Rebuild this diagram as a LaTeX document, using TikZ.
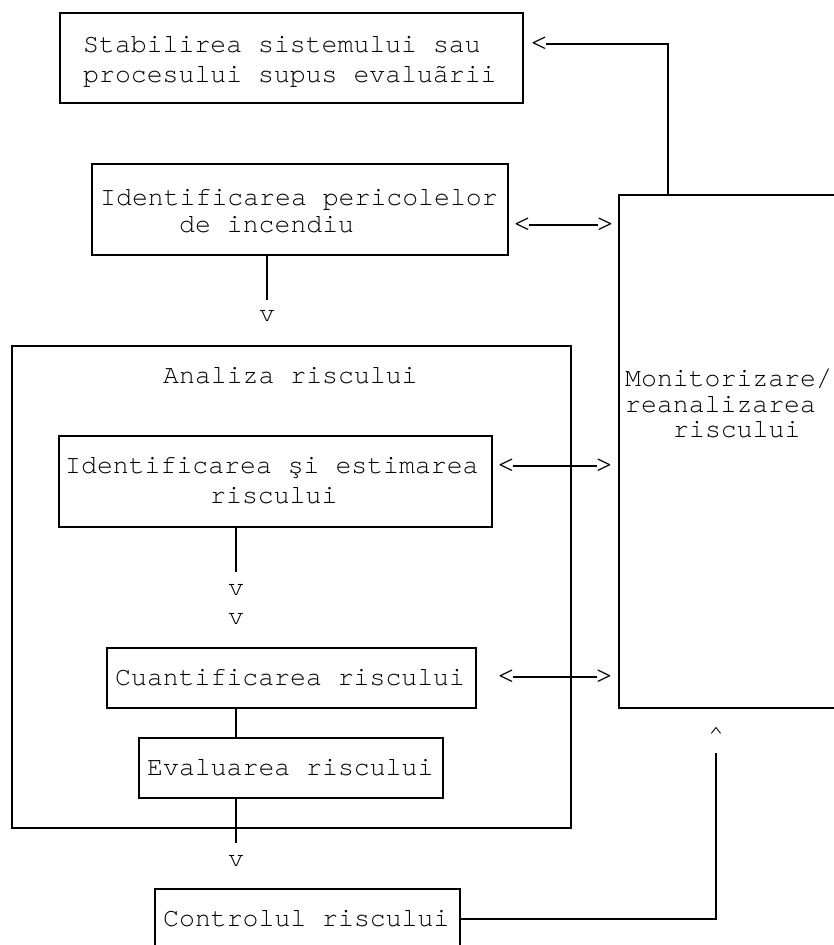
\documentclass[tikz,border=0pt]{standalone}
\usepackage{fontspec}
\newfontfamily\cur{texgyrecursor-regular.otf}[Ligatures={NoCommon,NoRare}]
\begin{document}
\begin{tikzpicture}[x=1pt,y=-1pt,
  box/.style={draw,line width=1.5pt,inner sep=0pt},
  txt/.style={anchor=base west,inner sep=0pt,font=\cur\fontsize{26.5}{30}\selectfont},
  sym/.style={inner sep=0pt,font=\cur\fontsize{26.5}{30}\selectfont},
  arr/.style={inner sep=0pt,font=\cur\fontsize{33}{36}\selectfont},
  conn/.style={line width=1.5pt}]
\useasboundingbox (0,0) rectangle (834,945);
\clip (0,0) rectangle (834,945);
% boxes
\node[box,minimum width=463pt,minimum height=90pt] (A) at (291.5,58) {};
\node[box,minimum width=416pt,minimum height=91pt] (B) at (300,209.5) {};
\node[box,minimum width=231pt,minimum height=513pt] (M) at (734.5,451.5) {};
\node[box,minimum width=559pt,minimum height=482pt] (R) at (291.5,587) {};
\node[box,minimum width=433pt,minimum height=91pt] (I) at (275.5,481.5) {};
\node[box,minimum width=369pt,minimum height=60pt] (C) at (291.5,678) {};
\node[box,minimum width=304pt,minimum height=60pt] (E) at (291,768) {};
\node[box,minimum width=305pt,minimum height=60pt] (K) at (307.5,919) {};
% texts
\node[txt] (tA1) at (83,52) {Stabilirea sistemului sau};
\node[txt] (tA2) at (83,82) {procesului supus evaluãrii};
\node[txt] (tB1) at (100,205) {Identificarea pericolelor};
\node[txt] (tB2) at (179,232) {de incendiu};
\node[txt] (tM1) at (625,386) {Monitorizare/};
\node[txt] (tM2) at (625,412) {reanalizarea};
\node[txt] (tM3) at (673,437) {riscului};
\node[txt] (tR) at (163,383) {Analiza riscului};
\node[txt] (tI1) at (65,473) {Identificarea şi estimarea};
\node[txt] (tI2) at (210,503) {riscului};
\node[txt] (tC) at (115,685) {Cuantificarea riscului};
\node[txt] (tE) at (147,775) {Evaluarea riscului};
\node[txt] (tK) at (163,926) {Controlul riscului};
% symbol heads
\node[arr] (la) at (539,44) {<};
\node[arr] (lb) at (522,225) {<};
\node[arr] (rb) at (605,225) {>};
\node[arr] (li) at (506,466) {<};
\node[arr] (ri) at (604,466) {>};
\node[arr] (lc) at (506,677) {<};
\node[arr] (rc) at (604,677) {>};
\node[sym,anchor=base] (vB) at (267,321) {v};
\node[sym,anchor=base] (vI1) at (236,595) {v};
\node[sym,anchor=base] (vI2) at (236,624) {v};
\node[sym,anchor=base] (vE) at (236,866) {v};
\node[sym,anchor=north] (up) at (716,727) {\^{}};
% free ends
\coordinate (mA) at (668,195);
\coordinate (eB) at (267,300);
\coordinate (eI) at (236,572);
\coordinate (eE) at (236,843);
\coordinate (eK) at (716,753);
% connectors
\draw[conn] ([xshift=-3pt]la.east) -| (mA);
\draw[conn] ([xshift=-3pt]lb.east) -- ([xshift=3pt]rb.west);
\draw[conn] ([xshift=-3pt]li.east) -- ([xshift=3pt]ri.west);
\draw[conn] ([xshift=-3pt]lc.east) -- ([xshift=3pt]rc.west);
\draw[conn] (vB |- B.south) -- (eB);
\draw[conn] (vI1 |- I.south) -- (eI);
\draw[conn] (vI1 |- C.south) -- (vI1 |- E.north);
\draw[conn] (vI1 |- E.south) -- (eE);
\draw[conn] (K.east) -| (eK);
\end{tikzpicture}
\end{document}
